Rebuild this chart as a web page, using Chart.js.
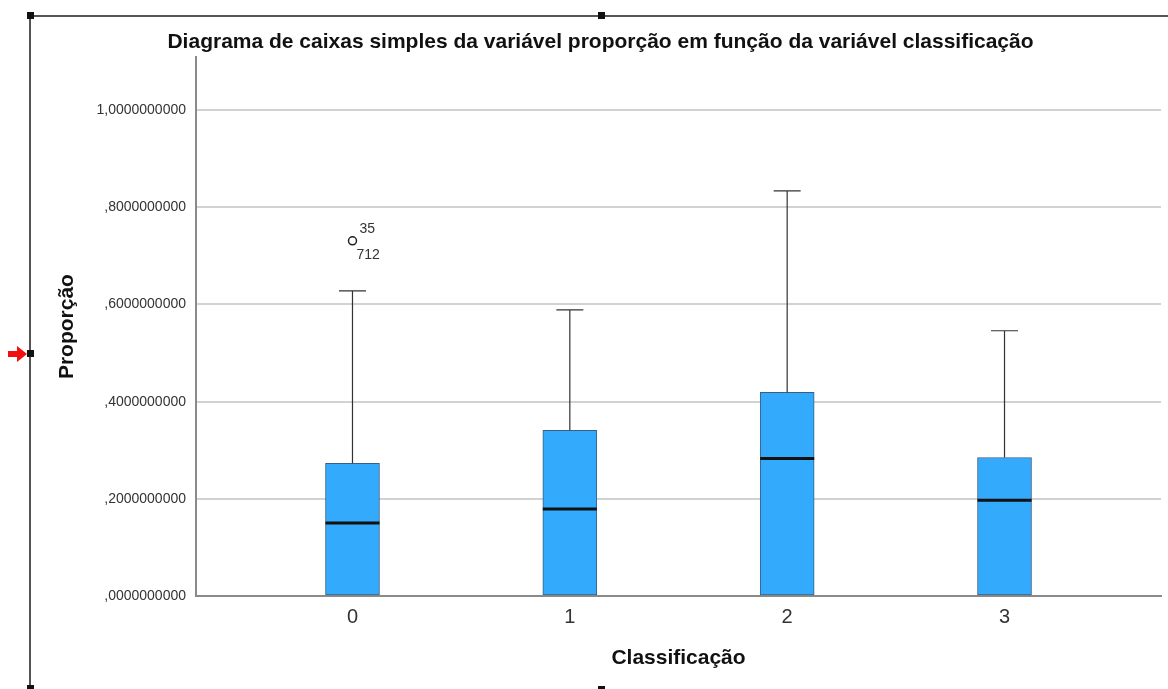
<!DOCTYPE html>
<html>
<head>
<meta charset="utf-8">
<title>Diagrama de caixas</title>
<script src="https://cdn.jsdelivr.net/npm/chart.js@4.4.1/dist/chart.umd.min.js"></script>
<style>
  html, body { margin: 0; padding: 0; background: #fff; }
  #wrap { position: relative; width: 1168px; height: 689px; overflow: hidden; }
  #boxChart { position: absolute; left: 0; top: 0; }
  .frame-h { position: absolute; left: 30px; top: 15px; width: 1140px; height: 2px; background: #555; }
  .frame-v { position: absolute; left: 29px; top: 15px; width: 2px; height: 680px; background: #555; }
  .handle { position: absolute; width: 7px; height: 7px; background: #111; }
  #arrow { position: absolute; left: 8px; top: 346px; }
</style>
</head>
<body>
<div id="wrap">
  <canvas id="boxChart" width="1168" height="689"></canvas>
  <div class="frame-h"></div>
  <div class="frame-v"></div>
  <div class="handle" style="left:27px;top:12px"></div>
  <div class="handle" style="left:598px;top:12px"></div>
  <div class="handle" style="left:27px;top:350px"></div>
  <div class="handle" style="left:27px;top:685px"></div>
  <div class="handle" style="left:598px;top:686px;height:3px"></div>
  <svg id="arrow" width="20" height="16" viewBox="0 0 20 16">
    <polygon points="0,5 9,5 9,0 19,8 9,16 9,11 0,11" fill="#f01010"/>
  </svg>
</div>
<script>
  // grupos da variável classificação
  const categories = ["0", "1", "2", "3"];
  const lowerWhisker = [0, 0, 0, 0];
  const q1 = [0, 0, 0, 0];
  const median = [0.150, 0.179, 0.283, 0.197];
  const q3 = [0.273, 0.341, 0.419, 0.285];
  const upperWhisker = [0.628, 0.589, 0.834, 0.546];

  // valores atípicos (grupo, valor, identificadores dos casos)
  const outlierGroup = [0];
  const outlierValue = [0.731];
  const outlierCases = [["35", "712"]];

  const yTicks = [0, 0.2, 0.4, 0.6, 0.8, 1.0];

  const FONT = "'Liberation Sans', Arial, sans-serif";

  function fmtPt(v) {
    // 0,2000000000 -> ,2000000000
    let s = v.toFixed(10).replace(".", ",");
    if (s.startsWith("0,")) s = s.slice(1);
    return s;
  }

  // bigodes, medianas e rótulos dos atípicos
  const boxExtras = {
    id: "boxExtras",
    afterDatasetsDraw(chart) {
      const ctx = chart.ctx;
      const x = chart.scales.x;
      const y = chart.scales.y;
      const bars = chart.getDatasetMeta(0).data;
      ctx.save();
      categories.forEach((c, i) => {
        const cx = x.getPixelForValue(i);
        const half = bars[i].width / 2;
        const capHalf = half / 2;
        const yTop = y.getPixelForValue(upperWhisker[i]);
        const yQ3 = y.getPixelForValue(q3[i]);
        const yQ1 = y.getPixelForValue(q1[i]);
        const yLow = y.getPixelForValue(lowerWhisker[i]);
        ctx.strokeStyle = "#333";
        ctx.lineWidth = 1.2;
        ctx.beginPath();
        ctx.moveTo(cx, yQ3); ctx.lineTo(cx, yTop);
        ctx.moveTo(cx - capHalf, yTop); ctx.lineTo(cx + capHalf, yTop);
        if (yLow > yQ1) {
          ctx.moveTo(cx, yQ1); ctx.lineTo(cx, yLow);
          ctx.moveTo(cx - capHalf, yLow); ctx.lineTo(cx + capHalf, yLow);
        }
        ctx.stroke();
        const ym = y.getPixelForValue(median[i]);
        ctx.strokeStyle = "#111";
        ctx.lineWidth = 3;
        ctx.beginPath();
        ctx.moveTo(cx - half, ym); ctx.lineTo(cx + half, ym);
        ctx.stroke();
      });
      ctx.fillStyle = "#333";
      ctx.font = "14px " + FONT;
      ctx.textAlign = "left";
      ctx.textBaseline = "middle";
      outlierValue.forEach((v, k) => {
        const px = x.getPixelForValue(outlierGroup[k]);
        const py = y.getPixelForValue(v);
        const ids = outlierCases[k];
        ctx.fillText(ids[0], px + 7, py - 12);
        ctx.fillText(ids[1], px + 4, py + 14);
      });
      ctx.restore();
    }
  };

  new Chart(document.getElementById("boxChart"), {
    type: "bar",
    data: {
      datasets: [
        {
          type: "bar",
          data: categories.map((c, i) => ({ x: i, y: [q1[i], q3[i]] })),
          backgroundColor: "#33aafc",
          borderColor: "#3b5f80",
          borderWidth: 1,
          borderSkipped: false,
          barThickness: 54
        },
        {
          type: "scatter",
          data: outlierValue.map((v, k) => ({ x: outlierGroup[k], y: v })),
          pointStyle: "circle",
          pointRadius: 4,
          pointBorderWidth: 1.5,
          pointBorderColor: "#222",
          pointBackgroundColor: "#fff"
        }
      ]
    },
    options: {
      responsive: false,
      animation: false,
      devicePixelRatio: 1,
      layout: { padding: { left: 40, right: 7, top: 0, bottom: 0 } },
      plugins: {
        legend: { display: false },
        tooltip: { enabled: false },
        title: {
          display: true,
          text: "Diagrama de caixas simples da variável proporção em função da variável classificação",
          color: "#111",
          font: { family: FONT, size: 21, weight: "bold" },
          padding: { top: 30, bottom: 2 }
        }
      },
      scales: {
        x: {
          type: "linear",
          offset: false,
          min: -0.72,
          max: 3.72,
          afterBuildTicks(scale) {
            scale.ticks = categories.map((c, i) => ({ value: i }));
          },
          afterFit(scale) { scale.height = 93; },
          grid: { drawOnChartArea: false, drawTicks: false, offset: false },
          border: { display: true, color: "#8a8a8a", width: 2 },
          ticks: {
            padding: 9,
            color: "#333",
            font: { family: FONT, size: 20 },
            callback: (v) => categories[v]
          },
          title: {
            display: true,
            text: "Classificação",
            color: "#111",
            font: { family: FONT, size: 21, weight: "bold" },
            padding: { top: 0, bottom: 18 }
          }
        },
        y: {
          min: 0,
          max: 1.109,
          afterBuildTicks(scale) {
            scale.ticks = yTicks.map((v) => ({ value: v }));
          },
          afterFit(scale) { scale.width = 156; },
          grid: { color: "#d2d2d2", lineWidth: 2, drawTicks: false },
          border: { display: true, color: "#8a8a8a", width: 2 },
          ticks: {
            padding: 10,
            color: "#333",
            font: { family: FONT, size: 14 },
            callback: (v) => fmtPt(v)
          },
          title: {
            display: true,
            text: "Proporção",
            color: "#111",
            font: { family: FONT, size: 21, weight: "bold" },
            padding: { top: 15, bottom: 0 }
          }
        }
      }
    },
    plugins: [boxExtras]
  });
</script>
</body>
</html>
